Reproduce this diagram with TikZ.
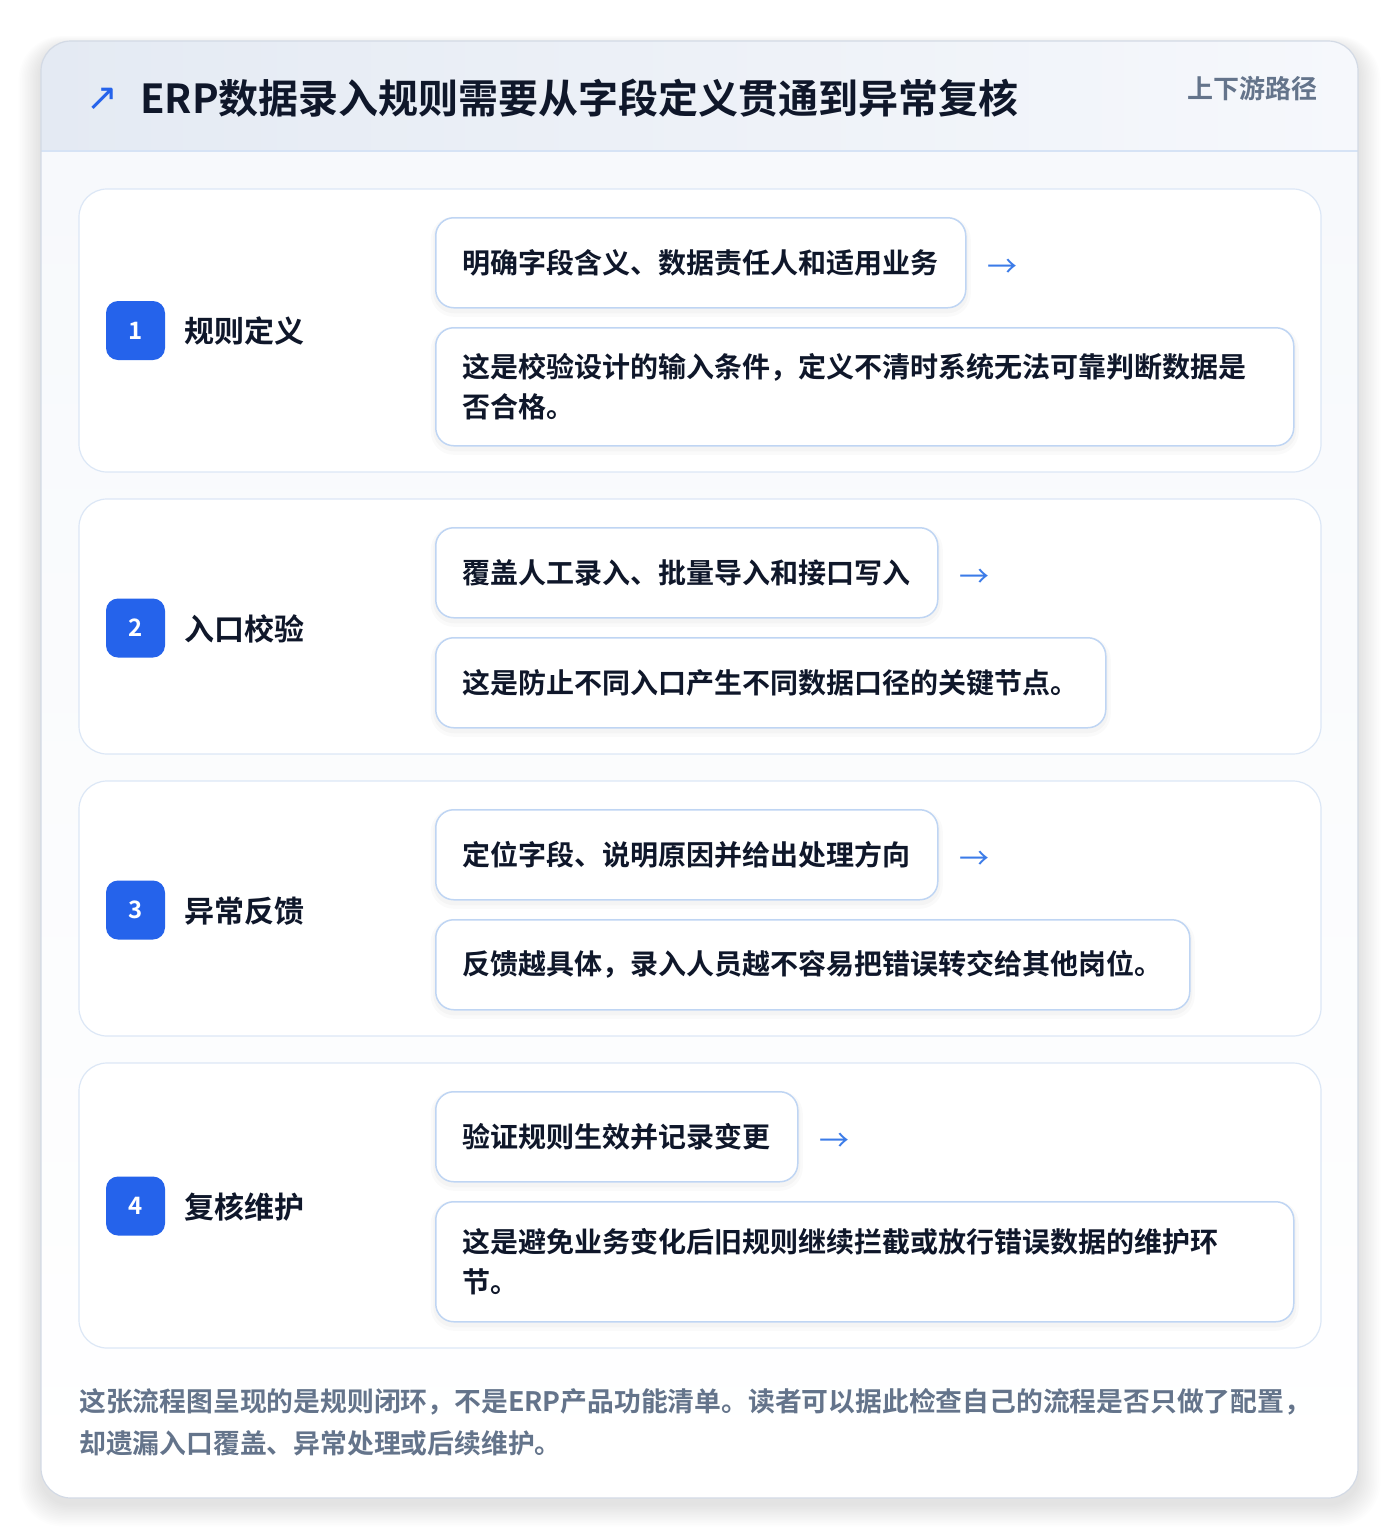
\documentclass[tikz,border=0pt]{standalone}
\usepackage{fontspec}
\setmainfont{Noto Sans CJK SC}[BoldFont={Noto Sans CJK SC Bold}]
\newfontfamily\symfont{DejaVu Sans}
\definecolor{ink}{HTML}{0F172A}
\definecolor{muted}{HTML}{64748B}
\definecolor{badgeblue}{HTML}{2563EB}
\definecolor{arrowblue}{HTML}{3B7BE8}
\definecolor{cardline}{HTML}{DCE7F6}
\definecolor{iboxline}{HTML}{BFD5F3}
\definecolor{outerline}{HTML}{D3DAE5}
\definecolor{hdrL}{HTML}{E4EAF3}
\definecolor{hdrR}{HTML}{F6F8FC}
\definecolor{hdrline}{HTML}{D6E3F5}
\definecolor{bodybg}{HTML}{F7F9FC}
\tikzset{
  card/.style={draw=cardline, line width=1.2pt, fill=white, rounded corners=28},
  ibox/.style={draw=iboxline, line width=1.5pt, fill=white, rounded corners=18,
    inner xsep=27pt, inner ysep=0pt, align=left, anchor=north west,
    font=\fontsize{28}{40}\selectfont\bfseries, text=ink,
    preaction={draw=black, opacity=0.018, line width=10pt, transform canvas={yshift=-4pt}},
    preaction={draw=black, opacity=0.025, line width=5pt, transform canvas={yshift=-3pt}}},
  badge/.style={fill=badgeblue, rounded corners=12, minimum size=59pt, inner sep=0pt,
    text=white, font=\fontsize{24}{24}\selectfont\bfseries},
  steplabel/.style={anchor=west, inner sep=0pt, font=\fontsize{30}{30}\selectfont\bfseries, text=ink},
  flowarrow/.style={anchor=west, inner sep=0pt, text=arrowblue, font=\fontsize{30}{30}\selectfont},
}
\begin{document}
\begin{tikzpicture}[x=1pt,y=-1pt]
\useasboundingbox (0,0) rectangle (1400,1540);
\fill[white] (0,0) rectangle (1400,1540);
% outer shadow
\foreach \i in {1,...,14}{
  \fill[black, opacity=0.006, rounded corners=30+\i]
    (41-\i*1.6, 41-\i*0.8+6) rectangle (1358+\i*1.6, 1498+\i*1.6+6);
}
% outer card
\begin{scope}
  \clip[rounded corners=30] (41,41) rectangle (1358,1498);
  \shade[top color=bodybg, bottom color=white] (41,151) rectangle (1358,1498);
  \shade[left color=hdrL, right color=hdrR] (41,41) rectangle (1358,151);
\end{scope}
\draw[hdrline, line width=1.2pt] (41,151) -- (1358,151);
\draw[outerline, line width=1.2pt, rounded corners=30] (41,41) rectangle (1358,1498);

% header
\node[anchor=center, inner sep=0pt, text=badgeblue, font=\symfont\fontsize{38}{38}\selectfont] (hicon) at (102,99) {↗};
\node[anchor=west, inner sep=0pt, text=ink, font=\fontsize{40}{40}\selectfont\bfseries] (title) at (140,98) {ERP数据录入规则需要从字段定义贯通到异常复核};
\node[anchor=east, inner sep=0pt, text=muted, font=\fontsize{26}{26}\selectfont\bfseries] (path) at (1318,89) {上下游路径};

% cards
\draw[card] (79,189) rectangle (1321,472);
\draw[card] (79,499) rectangle (1321,754);
\draw[card] (79,781) rectangle (1321,1036);
\draw[card] (79,1063) rectangle (1321,1348);

% step 1
\node[badge] (n1) at (135.5,330.5) {1};
\node[steplabel] (l1) at (184,331) {规则定义};
\node[ibox, text width=476pt, minimum height=90pt] (a1) at (435,217) {明确字段含义、数据责任人和适用业务};
\node[flowarrow] (r1) at (987,268) {→};
\node[ibox, text width=804pt, minimum height=118pt] (b1) at (435,327) {这是校验设计的输入条件，定义不清时系统无法可靠判断数据是\\否合格。};

% step 2
\node[badge] (n2) at (135.5,628) {2};
\node[steplabel] (l2) at (184,629) {入口校验};
\node[ibox, text width=448pt, minimum height=90pt] (a2) at (435,527) {覆盖人工录入、批量导入和接口写入};
\node[flowarrow] (r2) at (959,578) {→};
\node[ibox, text width=616pt, minimum height=90pt] (b2) at (435,637) {这是防止不同入口产生不同数据口径的关键节点。};

% step 3
\node[badge] (n3) at (135.5,910) {3};
\node[steplabel] (l3) at (184,911) {异常反馈};
\node[ibox, text width=448pt, minimum height=90pt] (a3) at (435,809) {定位字段、说明原因并给出处理方向};
\node[flowarrow] (r3) at (959,860) {→};
\node[ibox, text width=700pt, minimum height=90pt] (b3) at (435,919) {反馈越具体，录入人员越不容易把错误转交给其他岗位。};

% step 4
\node[badge] (n4) at (135.5,1206) {4};
\node[steplabel] (l4) at (184,1207) {复核维护};
\node[ibox, text width=308pt, minimum height=90pt] (a4) at (435,1091) {验证规则生效并记录变更};
\node[flowarrow] (r4) at (819,1142) {→};
\node[ibox, text width=804pt, minimum height=120pt] (b4) at (435,1201) {这是避免业务变化后旧规则继续拦截或放行错误数据的维护环\\节。};

% footer
\node[anchor=west, inner sep=0pt, align=left, text=muted, font=\fontsize{26.8}{42}\selectfont\bfseries] (foot) at (79,1422) {这张流程图呈现的是规则闭环，不是ERP产品功能清单。读者可以据此检查自己的流程是否只做了配置，\\却遗漏入口覆盖、异常处理或后续维护。};
\end{tikzpicture}
\end{document}
